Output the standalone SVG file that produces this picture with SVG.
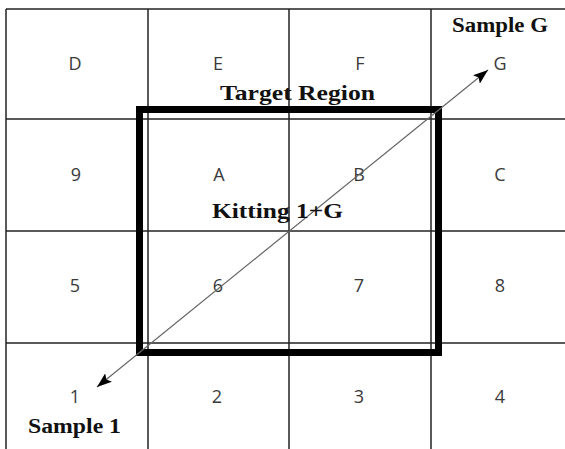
<svg xmlns="http://www.w3.org/2000/svg" width="565" height="449" viewBox="0 0 565 449">
<style>
.grid{stroke:#222;stroke-width:1.5;fill:none}
.cell{font-family:"Open Sans","Liberation Sans",sans-serif;font-size:18px;fill:#3a3a3a;text-anchor:middle}
.bold{font-family:"Liberation Serif","DejaVu Serif",serif;font-weight:bold;font-size:20px;fill:#111}
.region{fill:none;stroke:#000;stroke-width:7}
.diag{stroke:#666;stroke-width:1.2;fill:none}
</style>
<defs>
<marker id="arrow" viewBox="0 0 15 11" refX="15" refY="5.5" markerWidth="15" markerHeight="11" markerUnits="userSpaceOnUse" orient="auto-start-reverse">
<path d="M0,0 L15,5.5 L0,11 L3,5.5 Z" fill="#000"/>
</marker>
</defs>
<rect width="565" height="449" fill="#fff"/>
<g id="grid">
<line class="grid" x1="6" y1="9" x2="6" y2="449"/>
<line class="grid" x1="148" y1="9" x2="148" y2="449"/>
<line class="grid" x1="289" y1="9" x2="289" y2="449"/>
<line class="grid" x1="431" y1="9" x2="431" y2="449"/>
<line class="grid" x1="6" y1="9" x2="565" y2="9"/>
<line class="grid" x1="6" y1="119" x2="565" y2="119"/>
<line class="grid" x1="6" y1="231" x2="565" y2="231"/>
<line class="grid" x1="6" y1="343" x2="565" y2="343"/>
</g>
<g id="cells">
<g id="cell-D"><text class="cell" x="75" y="70">D</text></g>
<g id="cell-E"><text class="cell" x="218" y="70">E</text></g>
<g id="cell-F"><text class="cell" x="360" y="70">F</text></g>
<g id="cell-G"><text class="cell" x="500" y="70">G</text></g>
<g id="cell-9"><text class="cell" x="76" y="181">9</text></g>
<g id="cell-A"><text class="cell" x="219" y="181">A</text></g>
<g id="cell-B"><text class="cell" x="359" y="181">B</text></g>
<g id="cell-C"><text class="cell" x="500" y="181">C</text></g>
<g id="cell-5"><text class="cell" x="75" y="292">5</text></g>
<g id="cell-6"><text class="cell" x="218" y="292">6</text></g>
<g id="cell-7"><text class="cell" x="359" y="292">7</text></g>
<g id="cell-8"><text class="cell" x="500" y="292">8</text></g>
<g id="cell-1"><text class="cell" x="75" y="403">1</text></g>
<g id="cell-2"><text class="cell" x="217" y="403">2</text></g>
<g id="cell-3"><text class="cell" x="359" y="403">3</text></g>
<g id="cell-4"><text class="cell" x="500" y="403">4</text></g>
</g>
<g id="target-region">
<rect class="region" x="139.5" y="109.5" width="299" height="243"/>
<text class="bold" x="220" y="100" textLength="155" lengthAdjust="spacingAndGlyphs">Target Region</text>
</g>
<g id="connectors">
<line class="diag" x1="97" y1="387" x2="488" y2="70" marker-start="url(#arrow)" marker-end="url(#arrow)"/>
</g>
<g id="label-sample-g"><text class="bold" x="452" y="32" textLength="96" lengthAdjust="spacingAndGlyphs">Sample G</text></g>
<g id="label-kitting"><text class="bold" x="212" y="218" textLength="131" lengthAdjust="spacingAndGlyphs">Kitting 1+G</text></g>
<g id="label-sample-1"><text class="bold" x="28" y="433" textLength="93" lengthAdjust="spacingAndGlyphs">Sample 1</text></g>
</svg>
